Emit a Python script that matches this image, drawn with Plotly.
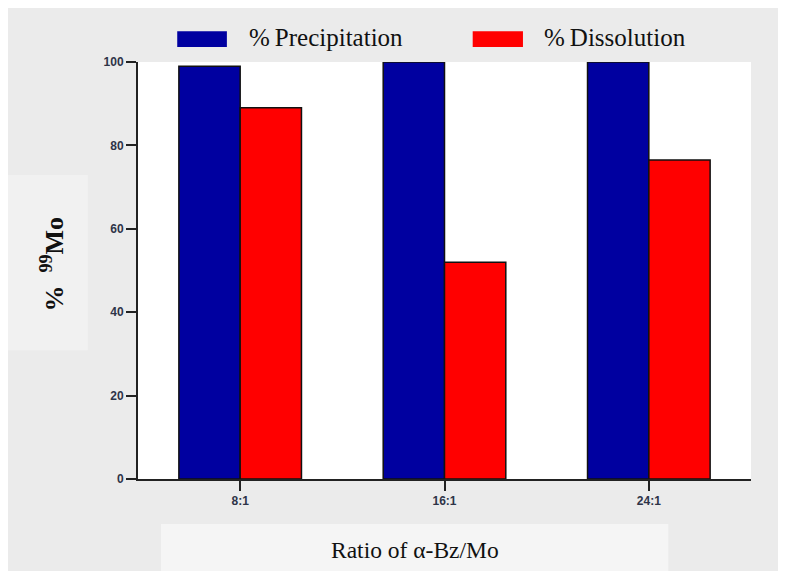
import plotly.graph_objects as go

categories = ["8:1", "16:1", "24:1"]
precipitation = [99, 100, 100]
dissolution = [89, 52, 76.5]
y_ticks = [0, 20, 40, 60, 80, 100]

fig = go.Figure()
fig.add_trace(go.Bar(x=categories, y=precipitation, name="%Precipitation",
                     marker=dict(color="#0000a0", line=dict(color="#111111", width=1.5))))
fig.add_trace(go.Bar(x=categories, y=dissolution, name="%Dissolution",
                     marker=dict(color="#ff0000", line=dict(color="#111111", width=1.5))))

tickfont = dict(family="Liberation Sans, Arial, sans-serif", size=12, color="#2e3448")
serif = "Liberation Serif, Times New Roman, serif"

fig.update_layout(
    width=786, height=571,
    margin=dict(l=130, r=43, t=54, b=100),
    paper_bgcolor="#ebebeb",
    plot_bgcolor="#ffffff",
    barmode="group", bargap=0.4, bargroupgap=0,
    showlegend=False,
    xaxis=dict(range=[-0.5, 2.5], showline=True, linecolor="#222222", linewidth=2,
               tickvals=categories, ticktext=["<b>%s</b>" % c for c in categories],
               ticks="outside", ticklen=10, tickwidth=2, tickcolor="#222222",
               tickfont=tickfont, showgrid=False, zeroline=False),
    yaxis=dict(range=[0, 100], tickvals=y_ticks, ticktext=["<b>%d</b>" % v for v in y_ticks],
               showline=True, linecolor="#222222", linewidth=2,
               ticks="outside", ticklen=10, tickwidth=2, tickcolor="#222222",
               tickfont=tickfont, showgrid=False, zeroline=False),
    shapes=[
        dict(type="rect", xref="paper", yref="paper", x0=0.0375, x1=0.865, y0=-0.108, y1=-0.30,
             fillcolor="#f5f5f5", line=dict(width=0), layer="below"),
        dict(type="rect", xref="paper", yref="paper", x0=-0.22, x1=-0.082, y0=0.309, y1=0.729,
             fillcolor="#f1f1f1", line=dict(width=0), layer="below"),
        dict(type="rect", xref="paper", yref="paper", x0=0.064, x1=0.145, y0=1.036, y1=1.074,
             fillcolor="#0000a0", line=dict(width=0)),
        dict(type="rect", xref="paper", yref="paper", x0=0.546, x1=0.628, y0=1.036, y1=1.074,
             fillcolor="#ff0000", line=dict(width=0)),
    ],
    annotations=[
        dict(text="%\u2009Precipitation", xref="paper", yref="paper", x=0.177, y=1.058,
             xanchor="left", yanchor="middle", showarrow=False,
             font=dict(family=serif, size=25, color="#111111")),
        dict(text="%\u2009Dissolution", xref="paper", yref="paper", x=0.659, y=1.058,
             xanchor="left", yanchor="middle", showarrow=False,
             font=dict(family=serif, size=25, color="#111111")),
        dict(text="Ratio of α-Bz/Mo", xref="paper", yref="paper", x=0.452, y=-0.170,
             xanchor="center", yanchor="middle", showarrow=False,
             font=dict(family=serif, size=23.5, color="#111111")),
        dict(text="<b>%  <sup>99</sup>Mo</b>", xref="paper", yref="paper", x=-0.139, y=0.516,
             xanchor="center", yanchor="middle", showarrow=False, textangle=-90,
             font=dict(family=serif, size=26, color="#111111")),
    ],
)

fig.write_html("out.html")
